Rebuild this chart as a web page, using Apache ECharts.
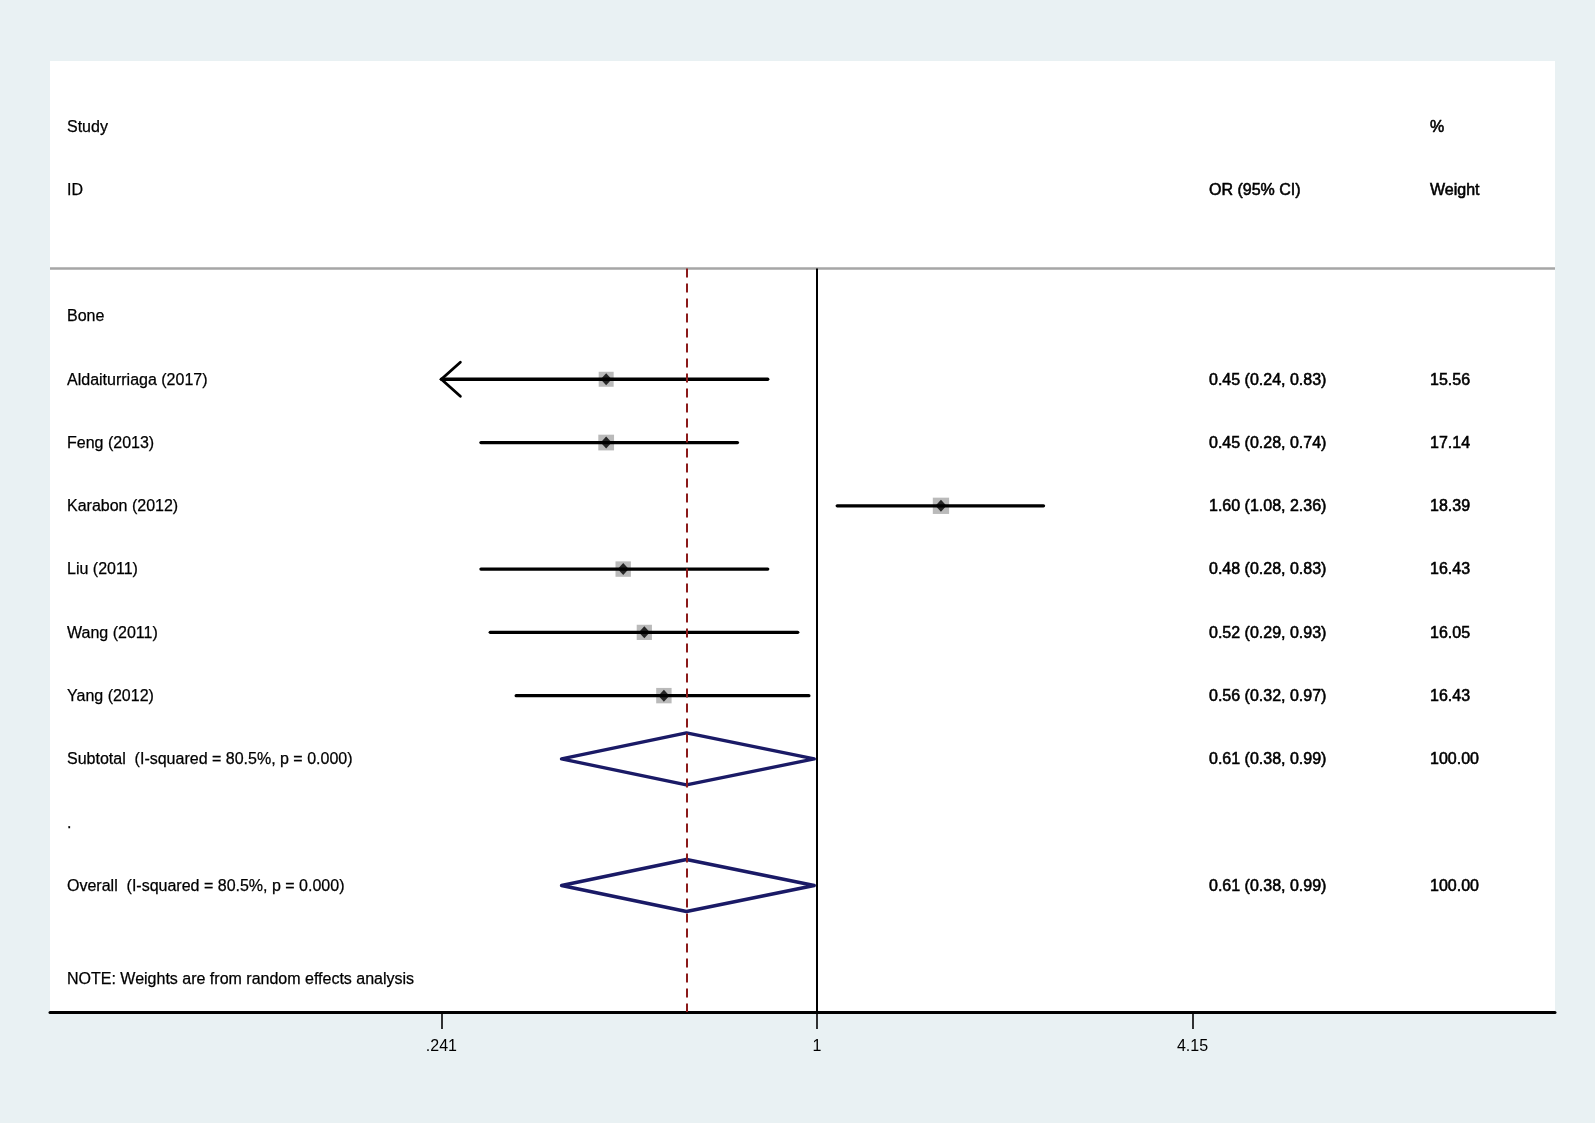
<!DOCTYPE html>
<html>
<head>
<meta charset="utf-8">
<script src="https://cdn.jsdelivr.net/npm/echarts@6/dist/echarts.min.js"></script>
<style>
  html, body { margin: 0; padding: 0; background: #e9f1f3; }
  #chart { width: 1595px; height: 1123px; }
</style>
</head>
<body>
<div id="chart"></div>
<script>
// study level data
const studies = ['Aldaiturriaga (2017)', 'Feng (2013)', 'Karabon (2012)', 'Liu (2011)', 'Wang (2011)', 'Yang (2012)'];
const orValues = [0.45, 0.45, 1.60, 0.48, 0.52, 0.56];
const ciLower = [0.24, 0.28, 1.08, 0.28, 0.29, 0.32];
const ciUpper = [0.83, 0.74, 2.36, 0.83, 0.93, 0.97];
const weights = [15.56, 17.14, 18.39, 16.43, 16.05, 16.43];
const studyRows = [4, 5, 6, 7, 8, 9];

// pooled estimates
const pooledLabels = ['Subtotal  (I-squared = 80.5%, p = 0.000)', 'Overall  (I-squared = 80.5%, p = 0.000)'];
const pooledOr = [0.61, 0.61];
const pooledLower = [0.38, 0.38];
const pooledUpper = [0.99, 0.99];
const pooledWeights = [100.00, 100.00];
const pooledRows = [10, 12];

const overallOr = 0.61;
const tickValues = [0.241, 1, 4.15];
const tickLabels = ['.241', '1', '4.15'];

const XMIN = 0.0547, XMAX = 16.39;
const SEP_ROW = 2.25, BOTTOM_ROW = 14;
const FONT = '"Liberation Sans", Arial, sans-serif';
const colX = [67, 1209, 1430];

// text rows: [column, row, text, heavy]
const texts = [
  [0, 0, 'Study', false],
  [0, 1, 'ID', false],
  [1, 1, 'OR (95% CI)', true],
  [2, 0, '%', true],
  [2, 1, 'Weight', true],
  [0, 3, 'Bone', false]
];
studies.forEach((s, i) => {
  texts.push([0, studyRows[i], s, false]);
  texts.push([1, studyRows[i], orValues[i].toFixed(2) + ' (' + ciLower[i].toFixed(2) + ', ' + ciUpper[i].toFixed(2) + ')', true]);
  texts.push([2, studyRows[i], weights[i].toFixed(2), true]);
});
pooledLabels.forEach((s, i) => {
  texts.push([0, pooledRows[i], s, false]);
  texts.push([1, pooledRows[i], pooledOr[i].toFixed(2) + ' (' + pooledLower[i].toFixed(2) + ', ' + pooledUpper[i].toFixed(2) + ')', true]);
  texts.push([2, pooledRows[i], pooledWeights[i].toFixed(2), true]);
});
texts.push([0, 11, '.', false]);
texts.push([0, 13.47, 'NOTE: Weights are from random effects analysis', false]);

const chart = echarts.init(document.getElementById('chart'));

const option = {
  animation: false,
  backgroundColor: '#e9f1f3',
  grid: {
    left: 50, right: 40, top: 61, bottom: 111,
    show: true, backgroundColor: '#ffffff', borderWidth: 0
  },
  xAxis: {
    type: 'log',
    logBase: 2,
    min: XMIN,
    max: XMAX,
    position: 'bottom',
    axisLine: { onZero: false, lineStyle: { color: '#000', width: 3 } },
    axisTick: {
      customValues: tickValues,
      length: 17,
      lineStyle: { color: '#000', width: 1.6 }
    },
    axisLabel: {
      customValues: tickValues,
      margin: 27,
      color: '#000',
      fontSize: 16,
      fontFamily: FONT,
      formatter: function (v) {
        const idx = tickValues.findIndex(t => Math.abs(t - v) < 1e-3 * t);
        return idx < 0 ? '' : tickLabels[idx];
      }
    },
    splitLine: { show: false },
    minorTick: { show: false }
  },
  yAxis: {
    type: 'value',
    inverse: true,
    min: -1.03,
    max: BOTTOM_ROW,
    show: false
  },
  series: [
    {
      // weight boxes
      type: 'scatter',
      z: 1,
      symbol: 'rect',
      symbolSize: function (val, params) {
        return 3.8 * Math.sqrt(weights[params.dataIndex]);
      },
      itemStyle: { color: '#a9a9a9', opacity: 0.8 },
      data: orValues.map((v, i) => [v, studyRows[i]]),
      silent: true
    },
    {
      // confidence intervals
      type: 'custom',
      z: 2,
      data: ciLower.map((v, i) => [v, studyRows[i], ciUpper[i]]),
      renderItem: function (params, api) {
        const row = api.value(1);
        const lo = Math.max(api.value(0), tickValues[0]);
        const p0 = api.coord([lo, row]);
        const p1 = api.coord([api.value(2), row]);
        const children = [{
          type: 'line',
          shape: { x1: p0[0], y1: p0[1], x2: p1[0], y2: p1[1] },
          style: { stroke: '#000', lineWidth: 3.3, lineCap: 'round' }
        }];
        if (api.value(0) < tickValues[0]) {
          children.push({
            type: 'polyline',
            shape: { points: [[p0[0] + 19, p0[1] - 17], [p0[0], p0[1]], [p0[0] + 19, p0[1] + 17]] },
            style: { stroke: '#000', lineWidth: 2.8, fill: 'none', lineCap: 'round' }
          });
        }
        return { type: 'group', children: children };
      },
      silent: true
    },
    {
      // point estimates
      type: 'scatter',
      z: 3,
      symbol: 'diamond',
      symbolSize: [11, 12],
      itemStyle: { color: '#000' },
      data: orValues.map((v, i) => [v, studyRows[i]]),
      silent: true,
      markLine: {
        silent: true,
        symbol: 'none',
        label: { show: false },
        data: [
          [{ coord: [XMIN, SEP_ROW], lineStyle: { color: '#a6a6a6', width: 2.5, type: 'solid' } },
           { coord: [XMAX, SEP_ROW] }],
          [{ coord: [1, SEP_ROW], lineStyle: { color: '#000', width: 2, type: 'solid' } },
           { coord: [1, BOTTOM_ROW] }],
          [{ coord: [overallOr, SEP_ROW], lineStyle: { color: '#8b1a1a', width: 2, type: [9, 6] } },
           { coord: [overallOr, BOTTOM_ROW] }]
        ]
      }
    },
    {
      // pooled diamonds
      type: 'custom',
      z: 2,
      data: pooledLower.map((v, i) => [v, pooledRows[i], pooledOr[i], pooledUpper[i]]),
      renderItem: function (params, api) {
        const row = api.value(1);
        const l = api.coord([api.value(0), row]);
        const c = api.coord([api.value(2), row]);
        const u = api.coord([api.value(3), row]);
        const h = 26;
        return {
          type: 'polygon',
          shape: { points: [[l[0], l[1]], [c[0], c[1] - h], [u[0], u[1]], [c[0], c[1] + h]] },
          style: { stroke: '#1a1a66', lineWidth: 3.5, fill: 'none', lineJoin: 'round' }
        };
      },
      silent: true
    },
    {
      // table text
      type: 'custom',
      z: 5,
      data: texts.map(t => [1, t[1]]),
      renderItem: function (params, api) {
        const t = texts[params.dataIndex];
        const y = api.coord([1, api.value(1)])[1];
        return {
          type: 'text',
          x: colX[t[0]],
          y: y + 1,
          style: {
            text: t[2],
            fill: '#000',
            stroke: '#000',
            lineWidth: t[3] ? 0.55 : 0.25,
            font: '16px ' + FONT,
            verticalAlign: 'middle',
            align: 'left'
          }
        };
      },
      silent: true
    }
  ]
};

chart.setOption(option);
</script>
</body>
</html>
